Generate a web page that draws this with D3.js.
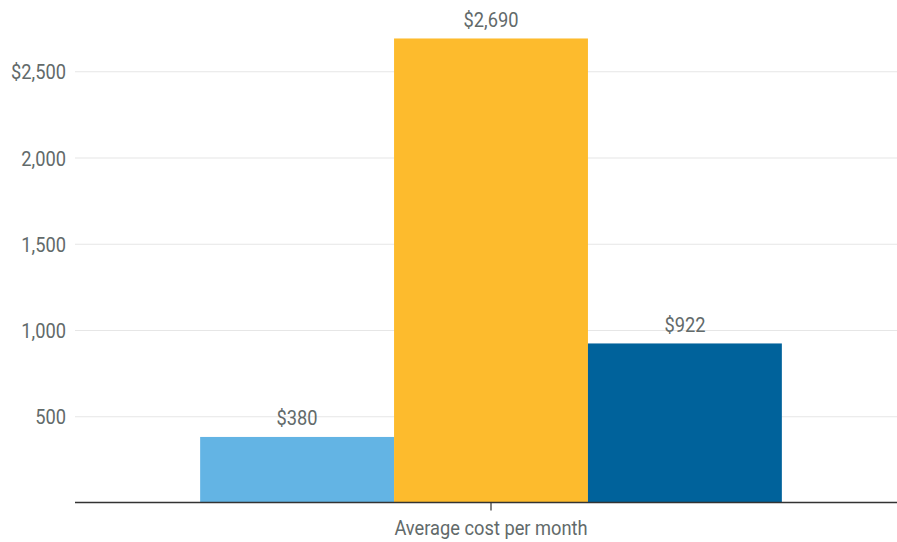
<!DOCTYPE html>
<html>
<head>
<meta charset="utf-8">
<script src="https://cdn.jsdelivr.net/npm/d3@7"></script>
<style>
  html, body { margin: 0; padding: 0; background: #fff; }
  svg text { font-family: Roboto, "Noto Sans", sans-serif; fill: #626a6a; }
</style>
</head>
<body>
<svg id="chart" width="897" height="542"></svg>
<script>
// Monthly cost figures, one value per series
const categories = ["Average cost per month"];
const seriesNames = ["Series A", "Series B", "Series C"];
const seriesValues = [380, 2690, 922];
const seriesColors = ["#63b4e4", "#fdbb2d", "#00629b"];
const yTicks = [500, 1000, 1500, 2000, 2500];

// Condensed look: Roboto squeezed horizontally
const fontSize = 21;
const squeeze = 0.87;

const svg = d3.select("#chart");
const plotLeft = 75;
const plotRight = 907;
const yZero = 502.5;

const y = d3.scaleLinear().domain([0, 2500]).range([yZero, 71.25]);

const x0 = d3.scaleBand().domain(categories).range([plotLeft, plotRight]);
const groupCenter = x0(categories[0]) + x0.bandwidth() / 2;
const groupWidth = 581.7;
const x1 = d3.scaleBand().domain(seriesNames)
  .range([groupCenter - groupWidth / 2, groupCenter + groupWidth / 2]);

// Gridlines and y tick labels
const yAxis = d3.axisLeft(y).tickValues(yTicks)
  .tickSize(-(897 - plotLeft))
  .tickPadding(9)
  .tickFormat((d, i) => (i === yTicks.length - 1 ? "$" : "") + d3.format(",")(d));

const gy = svg.append("g").attr("transform", `translate(${plotLeft},0)`).call(yAxis);
gy.select(".domain").remove();
gy.selectAll(".tick line").attr("stroke", "#e6e6e6").attr("stroke-width", 1.2);
gy.selectAll(".tick text")
  .attr("font-size", fontSize)
  .attr("x", -9 / squeeze)
  .attr("dy", "0.36em")
  .attr("transform", `scale(${squeeze},1)`)
  .style("fill", "#626a6a");

// Bars
const bars = svg.append("g");
bars.selectAll("rect").data(seriesValues).join("rect")
  .attr("x", (d, i) => x1(seriesNames[i]))
  .attr("width", x1.bandwidth())
  .attr("y", d => y(d))
  .attr("height", d => yZero - y(d))
  .attr("fill", (d, i) => seriesColors[i]);

// Value labels
bars.selectAll("text").data(seriesValues).join("text")
  .attr("transform", (d, i) =>
    `translate(${x1(seriesNames[i]) + x1.bandwidth() / 2},${y(d) - 11.5}) scale(${squeeze},1)`)
  .attr("text-anchor", "middle")
  .attr("font-size", fontSize)
  .text(d => "$" + d3.format(",")(d));

// x axis
const xAxis = d3.axisBottom(x0).tickSize(8).tickSizeOuter(0);
const gx = svg.append("g").attr("transform", `translate(0,${yZero})`).call(xAxis);
gx.select(".domain").attr("stroke", "#333").attr("stroke-width", 1.6)
  .attr("d", `M${plotLeft},0H897`);
gx.selectAll(".tick line").attr("stroke", "#333").attr("stroke-width", 1.2);
gx.selectAll(".tick text")
  .attr("font-size", fontSize)
  .attr("y", 32.5)
  .attr("dy", 0)
  .attr("transform", `scale(${squeeze},1)`)
  .style("fill", "#626a6a");
</script>
</body>
</html>
